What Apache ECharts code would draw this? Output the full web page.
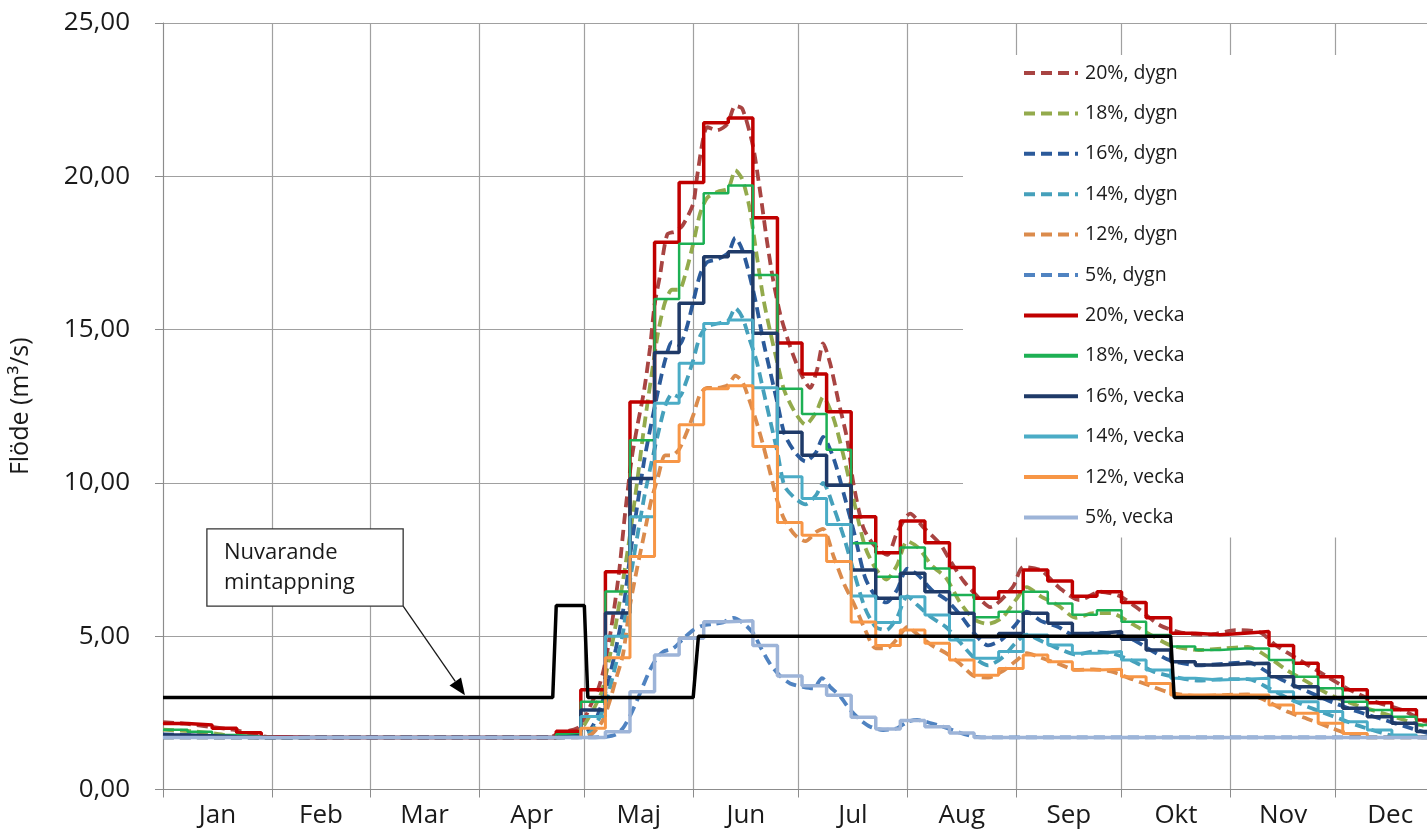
<!DOCTYPE html>
<html>
<head>
<meta charset="utf-8">
<script src="https://cdn.jsdelivr.net/npm/echarts@6/dist/echarts.min.js"></script>
<style>
  html, body { margin: 0; padding: 0; background: #ffffff; }
  #chart { width: 1427px; height: 835px; }
</style>
</head>
<body>
<div id="chart"></div>
<script>
// ---- Calendar -------------------------------------------------------------
const monthNames = ['Jan', 'Feb', 'Mar', 'Apr', 'Maj', 'Jun', 'Jul', 'Aug', 'Sep', 'Okt', 'Nov', 'Dec'];
const monthStartDays = [0, 31, 59, 90, 120, 151, 181, 212, 243, 273, 304, 334, 365];
const yearDays = 365;
const visibleDays = 360;   // the plot is cut just before New Year's Eve

// ---- Weekly flows (m3/s), week 1..53, each holds for 7 days ------------------
const vecka20 = [2.15, 2.1, 2.0, 1.85, 1.72, 1.7, 1.7, 1.7, 1.7, 1.7, 1.7, 1.7, 1.7, 1.7, 1.7, 1.7,
  1.9, 3.25, 7.1, 12.64, 17.85, 19.8, 21.75, 21.9, 18.65, 14.56, 13.55, 12.32, 8.9, 7.72, 8.76, 8.05,
  7.24, 6.24, 6.45, 7.16, 6.8, 6.3, 6.45, 6.1, 5.6, 5.1, 5.05, 5.1, 5.15, 4.7, 4.12, 3.68, 3.25, 2.83,
  2.6, 2.27, 2.2];
const vecka18 = [1.95, 1.88, 1.78, 1.72, 1.7, 1.7, 1.7, 1.7, 1.7, 1.7, 1.7, 1.7, 1.7, 1.7, 1.7, 1.7,
  1.8, 2.86, 6.46, 11.39, 16.0, 17.8, 19.45, 19.7, 16.78, 13.07, 12.25, 11.08, 8.03, 6.94, 7.89, 7.21,
  6.34, 5.62, 5.8, 6.45, 6.07, 5.7, 5.85, 5.47, 5.04, 4.66, 4.55, 4.6, 4.6, 4.22, 3.68, 3.3, 2.86, 2.59,
  2.37, 2.1, 2.05];
const vecka16 = [1.78, 1.75, 1.72, 1.7, 1.7, 1.7, 1.7, 1.7, 1.7, 1.7, 1.7, 1.7, 1.7, 1.7, 1.7, 1.7,
  1.75, 2.59, 5.76, 10.14, 14.25, 15.86, 17.38, 17.54, 14.88, 11.65, 10.9, 9.92, 7.16, 6.24, 7.05, 6.45,
  5.75, 4.98, 5.09, 5.75, 5.42, 5.09, 5.15, 4.9, 4.55, 4.17, 4.06, 4.1, 4.12, 3.68, 3.35, 2.97, 2.65, 2.37,
  2.16, 1.89, 1.85];
const vecka14 = [1.7, 1.7, 1.7, 1.7, 1.7, 1.7, 1.7, 1.7, 1.7, 1.7, 1.7, 1.7, 1.7, 1.7, 1.7, 1.7,
  1.72, 2.38, 5.0, 8.9, 12.6, 13.9, 15.2, 15.31, 13.1, 10.2, 9.49, 8.64, 6.31, 5.45, 6.29, 5.69,
  4.88, 4.28, 4.5, 5.04, 4.71, 4.44, 4.5, 4.22, 3.9, 3.63, 3.57, 3.6, 3.63, 3.19, 2.86, 2.54, 2.21, 1.94,
  1.78, 1.7, 1.7];
const vecka12 = [1.7, 1.7, 1.7, 1.7, 1.7, 1.7, 1.7, 1.7, 1.7, 1.7, 1.7, 1.7, 1.7, 1.7, 1.7, 1.7,
  1.7, 2.0, 4.3, 7.6, 10.7, 11.9, 13.07, 13.17, 11.19, 8.71, 8.29, 7.44, 5.46, 4.7, 5.2, 4.77,
  4.22, 3.73, 3.95, 4.39, 4.17, 3.9, 3.92, 3.68, 3.46, 3.08, 3.08, 3.08, 3.08, 2.76, 2.49, 2.16, 1.83, 1.7,
  1.7, 1.7, 1.7];
const vecka5 = [1.7, 1.7, 1.7, 1.7, 1.7, 1.7, 1.7, 1.7, 1.7, 1.7, 1.7, 1.7, 1.7, 1.7, 1.7, 1.7,
  1.7, 1.7, 1.88, 3.19, 4.39, 4.93, 5.47, 5.5, 4.7, 3.7, 3.38, 3.07, 2.36, 1.97, 2.25, 2.05,
  1.84, 1.7, 1.7, 1.7, 1.7, 1.7, 1.7, 1.7, 1.7, 1.7, 1.7, 1.7, 1.7, 1.7, 1.7, 1.7, 1.7, 1.7,
  1.7, 1.7, 1.7];

// ---- Daily flows (m3/s) as [day of year, flow] ------------------------------
const dygn20 = [[0, 2.2], [6, 2.15], [13, 2.05], [20, 1.95], [26, 1.8], [31, 1.7], [110, 1.7], [113, 1.85],
  [118, 2.0], [120, 2.3], [122, 2.8], [124, 3.3], [125.5, 3.9], [127, 4.8], [128.5, 5.9], [130, 7.2],
  [131.6, 9.0], [133.5, 10.8], [135, 11.8], [137, 13.0], [138.7, 14.4], [140, 15.8], [141.6, 16.8],
  [143.6, 18.1], [145.9, 18.2], [148, 18.4], [151, 19.1], [152, 19.9], [153.8, 21.2], [155, 21.6],
  [157.8, 21.5], [160.7, 21.7], [163, 22.3], [165, 22.2], [168, 21.0], [170, 19.55], [172, 17.9],
  [173.8, 16.6], [175.8, 15.5], [178.6, 14.45], [181.5, 13.6], [184.3, 13.1], [186.3, 13.7], [188, 14.55],
  [190, 13.9], [192.3, 12.7], [194.9, 11.4], [196.6, 10.0], [199.4, 8.56], [202.3, 8.0], [206.3, 7.65],
  [209, 8.36], [212.8, 9.0], [216.5, 8.56], [221.4, 8.0], [224, 7.5], [228, 6.8], [232.8, 6.2],
  [235.6, 5.95], [242, 6.6], [245, 7.26], [250, 7.15], [255.6, 6.55], [261, 6.18], [267, 6.45],
  [272.6, 6.3], [278.3, 5.85], [284, 5.35], [290, 5.12], [298, 5.05], [305.4, 5.2], [312.5, 5.12],
  [317, 4.7], [324, 4.2], [331.3, 3.7], [338, 3.25], [345.6, 2.85], [352.8, 2.6], [360, 2.2], [365, 2.15]];
const dygn18 = [[0, 1.95], [8, 1.9], [15, 1.82], [21, 1.72], [26, 1.7], [112, 1.7], [116, 1.8], [119, 1.95],
  [121, 2.3], [123, 2.7], [125, 3.2], [127, 4.2], [129, 5.4], [131, 6.8], [133, 8.3], [135, 10.0],
  [137, 11.8], [139, 13.4], [141, 14.9], [143, 15.9], [145, 16.3], [147, 16.3], [149, 16.9], [151, 17.8],
  [153, 18.8], [155, 19.3], [158, 19.5], [161, 19.6], [163, 20.2], [165, 19.9], [167, 19.0], [169, 17.5],
  [171, 16.0], [173, 14.9], [175, 13.9], [177, 13.0], [180, 12.3], [183, 11.9], [186, 12.3], [188, 12.8],
  [191, 12.1], [194, 10.8], [197, 9.3], [200, 7.9], [203, 7.2], [206, 6.85], [209, 7.3], [212, 8.1],
  [215, 7.9], [219, 7.3], [223, 6.9], [227, 6.1], [231, 5.55], [235, 5.4], [239, 5.6], [243, 6.2],
  [246, 6.6], [250, 6.3], [255, 6.0], [260, 5.6], [265, 5.75], [270, 5.75], [276, 5.4], [282, 5.0],
  [287, 4.7], [295, 4.55], [302, 4.6], [309, 4.65], [315, 4.3], [320, 3.9], [326, 3.5], [333, 3.05],
  [340, 2.75], [347, 2.5], [354, 2.25], [360, 2.05], [365, 2.0]];
const dygn16 = [[0, 1.8], [10, 1.75], [15, 1.7], [112, 1.7], [118, 1.75], [122, 2.0], [125, 2.8], [127, 3.6],
  [129, 4.6], [131, 5.8], [133, 7.6], [135, 9.2], [137, 10.7], [139, 11.9], [141, 13.0], [143, 14.0],
  [145, 14.6], [147, 14.5], [149, 15.0], [151, 15.9], [153, 16.8], [155, 17.2], [158, 17.3], [161, 17.5],
  [163, 18.0], [165, 17.6], [167, 16.8], [169, 15.8], [171, 14.6], [173, 13.6], [175, 12.6], [177, 11.6],
  [180, 11.0], [183, 10.7], [186, 11.0], [188, 11.5], [191, 10.8], [194, 9.6], [197, 8.3], [200, 6.9],
  [203, 6.3], [206, 6.1], [209, 6.5], [212, 7.2], [215, 7.0], [219, 6.5], [223, 6.2], [227, 5.7],
  [231, 5.1], [235, 4.7], [239, 4.9], [243, 5.4], [246, 5.8], [250, 5.5], [255, 5.3], [260, 5.0],
  [265, 5.1], [270, 5.1], [276, 4.9], [282, 4.5], [287, 4.2], [295, 4.05], [302, 4.1], [309, 4.15],
  [315, 3.8], [320, 3.5], [326, 3.2], [333, 2.85], [340, 2.55], [347, 2.3], [354, 2.05], [360, 1.85],
  [365, 1.8]];
const dygn14 = [[0, 1.7], [115, 1.7], [119, 1.75], [122, 1.9], [125, 2.5], [127, 3.2], [129, 4.1], [131, 5.1],
  [133, 6.8], [135, 8.2], [137, 9.5], [139, 10.6], [141, 11.6], [143, 12.5], [145, 12.9], [147, 12.8],
  [149, 13.3], [151, 14.0], [153, 14.8], [155, 15.1], [158, 15.2], [161, 15.3], [163, 15.7], [165, 15.4],
  [167, 14.7], [169, 14.0], [171, 13.0], [173, 12.0], [175, 11.0], [177, 9.9], [180, 9.5], [183, 9.3],
  [186, 9.6], [188, 10.0], [191, 9.2], [194, 8.2], [197, 7.0], [200, 5.9], [203, 5.3], [206, 5.2],
  [209, 5.6], [212, 6.3], [215, 6.0], [219, 5.6], [223, 5.3], [227, 4.8], [231, 4.3], [235, 4.05],
  [239, 4.3], [243, 4.8], [246, 5.05], [250, 4.85], [255, 4.6], [260, 4.4], [265, 4.5], [270, 4.45],
  [276, 4.2], [282, 3.85], [287, 3.7], [295, 3.55], [302, 3.6], [309, 3.6], [315, 3.3], [320, 3.0],
  [326, 2.7], [333, 2.4], [340, 2.1], [347, 1.85], [352, 1.72], [365, 1.7]];
const dygn12 = [[0, 1.7], [118, 1.7], [122, 1.8], [125, 2.2], [127, 2.8], [129, 3.6], [131, 4.4], [133, 6.0],
  [135, 7.2], [137, 8.3], [139, 9.4], [141, 10.2], [143, 10.9], [145, 10.9], [147, 11.1], [149, 11.6],
  [151, 12.2], [153, 12.9], [155, 13.1], [158, 13.1], [161, 13.2], [163, 13.5], [165, 13.3], [167, 12.7],
  [169, 12.0], [171, 11.2], [173, 10.3], [175, 9.4], [177, 8.8], [180, 8.3], [183, 8.1], [186, 8.4],
  [188, 8.5], [191, 7.6], [194, 6.7], [197, 6.0], [200, 5.2], [203, 4.6], [206, 4.6], [209, 4.9],
  [212, 5.3], [215, 5.05], [219, 4.7], [223, 4.45], [227, 4.1], [231, 3.7], [235, 3.65], [239, 3.85],
  [243, 4.2], [246, 4.45], [250, 4.3], [255, 4.1], [260, 3.9], [265, 3.92], [270, 3.85], [276, 3.6],
  [282, 3.35], [287, 3.15], [295, 3.05], [302, 3.08], [309, 3.1], [315, 2.85], [320, 2.55], [326, 2.3],
  [333, 2.0], [338, 1.8], [342, 1.7], [365, 1.7]];
const dygn5 = [[0, 1.7], [122, 1.7], [126, 1.72], [129, 1.8], [131, 2.0], [133, 2.4], [135, 2.9], [136.8, 3.4],
  [138.7, 3.9], [140.7, 4.3], [142.5, 4.5], [145.3, 4.6], [148, 4.9], [151, 5.2], [153.8, 5.35],
  [156.7, 5.4], [159.5, 5.45], [162.4, 5.6], [165, 5.45], [168.1, 5.1], [170.1, 4.66], [172.9, 4.1],
  [175.8, 3.7], [178.6, 3.46], [182.3, 3.35], [185.2, 3.3], [187.7, 3.63], [190, 3.35], [192.9, 3.03],
  [195.7, 2.6], [198.6, 2.27], [201.4, 2.05], [205.1, 1.94], [209.1, 2.0], [212, 2.21], [214.8, 2.27],
  [218.5, 2.17], [223.4, 2.0], [227, 1.85], [231, 1.72], [233, 1.7], [365, 1.7]];

// ---- Current minimum release ("Nuvarande mintappning") -----------------------
const minTappning = [[0, 3], [111, 3], [112, 6], [120, 6], [121, 3], [151, 3], [152.5, 5], [287, 5], [288, 3], [365, 3]];

// ---- Callout anchors, in [day, flow] ------------------------------------------
const calloutBoxTopLeft = [12.5, 8.5];
const calloutBoxBottomRight = [68.4, 5.98];
const calloutArrowTip = [86, 3.07];
const calloutLines = ['Nuvarande', 'mintappning'];

const FONT = '"Open Sans", "DejaVu Sans", sans-serif';
const monthMids = monthNames.map((_, i) => (monthStartDays[i] + monthStartDays[i + 1]) / 2);

function weeklyPoints(values) {
  const pts = values.map((v, k) => [k * 7, v]);
  pts.push([yearDays, values[values.length - 1]]);
  return pts;
}

const dygnSeries = [
  { name: '20%, dygn', data: dygn20, color: '#A84442' },
  { name: '18%, dygn', data: dygn18, color: '#93AA4C' },
  { name: '16%, dygn', data: dygn16, color: '#2B5A9A' },
  { name: '14%, dygn', data: dygn14, color: '#45A0BB' },
  { name: '12%, dygn', data: dygn12, color: '#DB8B4C' },
  { name: '5%, dygn', data: dygn5, color: '#5083C1' }
];
const veckaSeries = [
  { name: '20%, vecka', data: vecka20, color: '#C00000', width: 3.5 },
  { name: '18%, vecka', data: vecka18, color: '#1DB054', width: 2.5 },
  { name: '16%, vecka', data: vecka16, color: '#1F3A68', width: 3.5 },
  { name: '14%, vecka', data: vecka14, color: '#4BACC6', width: 3 },
  { name: '12%, vecka', data: vecka12, color: '#F79646', width: 3 },
  { name: '5%, vecka', data: vecka5, color: '#9DB4D8', width: 3.5 }
];

const series = [];
dygnSeries.forEach(s => series.push({
  name: s.name, type: 'line', data: s.data, smooth: 0.25, symbol: 'none', z: 2,
  color: s.color,
  lineStyle: { color: s.color, width: 3.8, type: [11, 6] }
}));
veckaSeries.forEach(s => series.push({
  name: s.name, type: 'line', data: weeklyPoints(s.data), step: 'end', symbol: 'none', z: 3,
  color: s.color,
  lineStyle: { color: s.color, width: s.width }
}));
series.push({
  name: 'Nuvarande mintappning', type: 'line', data: minTappning, symbol: 'none', z: 4,
  color: '#000000', lineStyle: { color: '#000000', width: 3.5 }
});

const chart = echarts.init(document.getElementById('chart'), null, { renderer: 'canvas' });
chart.setOption({
  animation: false,
  backgroundColor: '#ffffff',
  grid: { left: 163, top: 23, right: 0, height: 766.5, containLabel: false },
  xAxis: {
    type: 'value', min: 0, max: visibleDays,
    axisLine: { show: true, onZero: false, lineStyle: { color: '#8c8c8c', width: 1 } },
    axisTick: { show: true, length: 8, customValues: monthStartDays, lineStyle: { color: '#8c8c8c' } },
    splitLine: { show: true, lineStyle: { color: '#a0a0a0', width: 1.2 } },
    axisLabel: {
      customValues: monthMids, margin: 13, color: '#1a1a1a', fontSize: 26, fontFamily: FONT,
      formatter: v => {
        const i = monthMids.indexOf(v);
        return i >= 0 ? monthNames[i] : '';
      }
    }
  },
  yAxis: {
    type: 'value', min: 0, max: 25, interval: 5,
    name: 'Flöde (m³/s)', nameLocation: 'middle', nameGap: 130,
    nameTextStyle: { fontSize: 25, color: '#1a1a1a', fontFamily: FONT },
    axisLine: { show: true, lineStyle: { color: '#8c8c8c', width: 1 } },
    axisTick: { show: true, length: 8, lineStyle: { color: '#8c8c8c' } },
    splitLine: { show: true, lineStyle: { color: '#a0a0a0', width: 1.2 } },
    axisLabel: {
      margin: 33, color: '#1a1a1a', fontSize: 26, fontFamily: FONT,
      formatter: v => v.toFixed(2).replace('.', ',')
    }
  },
  legend: {
    orient: 'vertical', left: 963, top: 55,
    padding: [8, 270, 10, 59],
    backgroundColor: '#ffffff',
    itemWidth: 54, itemHeight: 20, itemGap: 20.4,
    selectedMode: false,
    itemStyle: { opacity: 0 },
    lineStyle: { width: 4 },
    textStyle: { fontSize: 19.5, color: '#1a1a1a', fontFamily: FONT, lineHeight: 20, padding: [0, 0, 0, 2] },
    data: dygnSeries.map(s => s.name).concat(veckaSeries.map(s => s.name))
  },
  series: series
});

// Callout box with arrow pointing at the minimum-release line
function drawCallout() {
  const tl = chart.convertToPixel({ gridIndex: 0 }, calloutBoxTopLeft);
  const br = chart.convertToPixel({ gridIndex: 0 }, calloutBoxBottomRight);
  const tip = chart.convertToPixel({ gridIndex: 0 }, calloutArrowTip);
  const start = [br[0], br[1]];
  const dx = tip[0] - start[0], dy = tip[1] - start[1];
  const len = Math.sqrt(dx * dx + dy * dy);
  const ux = dx / len, uy = dy / len;
  const headLen = 17, headHalf = 7;
  const base = [tip[0] - ux * headLen, tip[1] - uy * headLen];
  const left = [base[0] - uy * headHalf, base[1] + ux * headHalf];
  const right = [base[0] + uy * headHalf, base[1] - ux * headHalf];
  const cy = (tl[1] + br[1]) / 2;
  chart.setOption({
    graphic: [
      {
        type: 'line', z: 10, silent: true,
        shape: { x1: start[0], y1: start[1], x2: base[0], y2: base[1] },
        style: { stroke: '#1a1a1a', lineWidth: 1.3 }
      },
      {
        type: 'polygon', z: 10, silent: true,
        shape: { points: [tip, left, right] },
        style: { fill: '#000000' }
      },
      {
        type: 'rect', z: 11, silent: true,
        shape: { x: tl[0], y: tl[1], width: br[0] - tl[0], height: br[1] - tl[1] },
        style: { fill: '#ffffff', stroke: '#333333', lineWidth: 1.3 }
      },
      {
        type: 'text', z: 12, silent: true,
        x: tl[0] + 17, y: cy,
        style: {
          text: calloutLines.join('\n'), fill: '#1a1a1a',
          font: '22px ' + FONT, lineHeight: 30,
          align: 'left', verticalAlign: 'middle'
        }
      }
    ]
  });
}
drawCallout();
</script>
</body>
</html>
